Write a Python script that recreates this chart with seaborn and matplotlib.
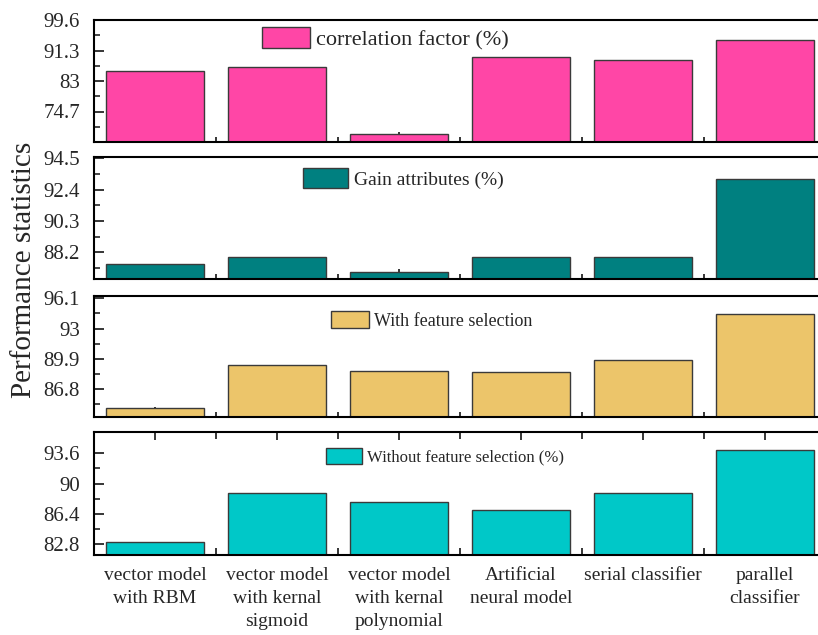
import matplotlib
matplotlib.use("Agg")
import matplotlib.pyplot as plt
import matplotlib.patches as mpatches
from matplotlib.ticker import FixedLocator
import seaborn as sns

# ---- data -------------------------------------------------------------
models = [
    "vector model\nwith RBM",
    "vector model\nwith kernal\nsigmoid",
    "vector model\nwith kernal\npolynomial",
    "Artificial\nneural model",
    "serial classifier",
    "parallel\nclassifier",
]

correlation_factor = [85.7, 86.8, 68.7, 89.6, 88.7, 94.2]
gain_attributes = [87.4, 87.9, 86.9, 87.9, 87.9, 93.1]
with_feature_selection = [84.9, 89.3, 88.6, 88.5, 89.8, 94.5]
without_feature_selection = [83.0, 88.9, 87.8, 86.9, 88.9, 94.0]

series_labels = [
    "correlation factor (%)",
    "Gain attributes (%)",
    "With feature selection",
    "Without feature selection (%)",
]

ticks_corr = [74.7, 83, 91.3, 99.6]
ticks_gain = [88.2, 90.3, 92.4, 94.5]
ticks_with = [86.8, 89.9, 93, 96.1]
ticks_without = [82.8, 86.4, 90, 93.6]

tick_text_corr = ["74.7", "83", "91.3", "99.6"]
tick_text_gain = ["88.2", "90.3", "92.4", "94.5"]
tick_text_with = ["86.8", "89.9", "93", "96.1"]
tick_text_without = ["82.8", "86.4", "90", "93.6"]

# ---- style ------------------------------------------------------------
sns.set_style("ticks")
plt.rcParams["font.family"] = ["Liberation Serif", "DejaVu Serif"]
plt.rcParams["axes.linewidth"] = 1.5

W, H = 818, 635
fig = plt.figure(figsize=(W / 100, H / 100), dpi=100)

left_px = 94
width_px = 732  # six categories, right spine runs off the canvas

panels = [
    # (top_px, bottom_px, values, color, ylim, ticks, ticktext, minor step,
    #  legend anchor (x_px, y_px), legend font, handle len, handle height)
    (20.0, 142.0, correlation_factor, "#FF46A6", (66.4, 99.6), ticks_corr,
     tick_text_corr, 4.15, (261.7, 26.7), 16, 2.16, 1.13),
    (157.0, 279.3, gain_attributes, "#008080", (86.4, 94.6), ticks_gain,
     tick_text_gain, 1.05, (302.7, 168.3), 14, 2.32, 1.19),
    (295.7, 417.3, with_feature_selection, "#ECC56A", (83.9, 96.37), ticks_with,
     tick_text_with, 1.55, (331.0, 311.0), 13, 2.10, 1.10),
    (432.3, 555.0, without_feature_selection, "#00C8C8", (81.5, 96.1),
     ticks_without, tick_text_without, 1.8, (326.0, 447.7), 12, 2.16, 1.14),
]

for i, (top, bot, vals, color, ylim, yt, ytl, mstep, lg, lfs, hl, hh) in enumerate(panels):
    ax = fig.add_axes([left_px / W, 1 - bot / H, width_px / W, (bot - top) / H])
    sns.barplot(x=models, y=vals, color=color, saturation=1, width=0.8,
                edgecolor="#3a3a3a", linewidth=1.0, ax=ax)
    ax.set_ylim(*ylim)
    ax.set_xlim(-0.5, 5.5)
    ax.set_xlabel("")
    ax.set_ylabel("")

    ax.yaxis.set_major_locator(FixedLocator(yt))
    ax.set_yticklabels(ytl)
    minor = [t - mstep for t in yt if ylim[0] < t - mstep < ylim[1]]
    ax.yaxis.set_minor_locator(FixedLocator(minor))

    ax.xaxis.set_major_locator(FixedLocator(range(6)))
    ax.xaxis.set_minor_locator(FixedLocator([k + 0.5 for k in range(6)]))

    for s in ax.spines.values():
        s.set_linewidth(1.5)
        s.set_color("black")

    ax.tick_params(axis="y", which="major", direction="in", length=7,
                   width=1.3, labelsize=15, pad=10)
    ax.tick_params(axis="y", which="minor", direction="in", length=4, width=1.2)
    ax.tick_params(axis="x", which="major", direction="in", length=7, width=1.3,
                   labelsize=14, pad=9)
    ax.tick_params(axis="x", which="minor", direction="in", length=3.5, width=1.3)

    if i == 3:
        ax.set_xticks(range(6))
        ax.set_xticklabels(models, linespacing=1.45)
        ax.tick_params(axis="x", which="both", top=True)
        ax.tick_params(axis="x", which="major", length=6)
        ax.tick_params(axis="x", which="minor", length=5)
    else:
        ax.set_xticklabels([])

    handle = mpatches.Patch(facecolor=color, edgecolor="#3a3a3a", linewidth=1.0)
    ax.legend(
        handles=[handle], labels=[series_labels[i]],
        loc="upper left",
        bbox_to_anchor=((lg[0] - left_px) / width_px, (bot - lg[1]) / (bot - top)),
        frameon=False, fontsize=lfs, handlelength=hl, handleheight=hh,
        handletextpad=0.3, borderpad=0, borderaxespad=0,
    )

fig.text(24 / W, 1 - 270 / H, "Performance statistics", rotation=90,
         ha="center", va="center", fontsize=21)

fig.savefig("out.png", dpi=100)
